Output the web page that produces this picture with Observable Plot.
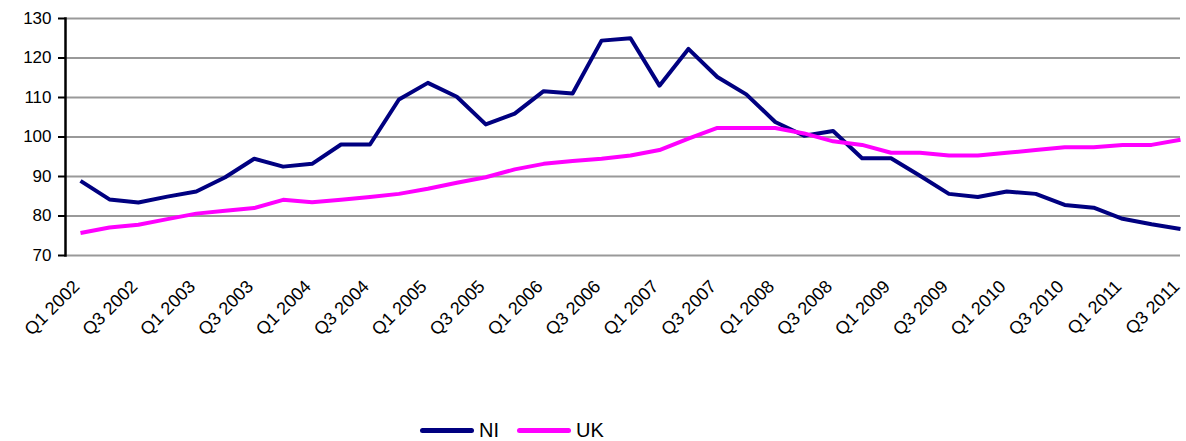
<!DOCTYPE html>
<html>
<head>
<meta charset="utf-8">
<script src="https://cdn.jsdelivr.net/npm/d3@7"></script>
<script src="https://cdn.jsdelivr.net/npm/@observablehq/plot@0.6"></script>
<style>
  html, body { margin: 0; padding: 0; background: #fff; }
  body { width: 1186px; height: 441px; overflow: hidden; font-family: "Liberation Sans", Arial, sans-serif; }
  #legend { position: relative; height: 29px; }
  .item { position: absolute; top: 0; display: flex; align-items: center; height: 36px; font-size: 20px; color: #000; }
  .sw { display: inline-block; width: 54px; height: 5px; border-radius: 3px; margin-right: 5px; }
</style>
</head>
<body>
<div id="chart"></div>
<div id="legend"></div>
<script>
const quarters = [];
for (let yr = 2002; yr <= 2011; yr++) for (let q = 1; q <= 4; q++) quarters.push(`Q${q} ${yr}`);
quarters.splice(39); // Q1 2002 .. Q3 2011

const tickLabels = quarters.filter((d, i) => i % 2 === 0);

const ni = [88.9, 84.2, 83.4, 84.9, 86.2, 89.8, 94.5, 92.5, 93.2, 98.1,
            98.1, 109.5, 113.7, 110.2, 103.2, 105.9, 111.6, 111.0, 124.4, 125.0,
            113.0, 122.3, 115.2, 110.8, 103.8, 100.3, 101.5, 94.6, 94.6, 90.2,
            85.6, 84.8, 86.2, 85.6, 82.8, 82.1, 79.3, 77.9, 76.7];
const uk = [75.7, 77.1, 77.8, 79.2, 80.6, 81.3, 82.0, 84.1, 83.5, 84.1,
            84.8, 85.6, 86.9, 88.4, 89.8, 91.8, 93.2, 93.9, 94.5, 95.3,
            96.7, 99.6, 102.3, 102.3, 102.3, 100.9, 98.9, 98.0, 96.0, 96.0,
            95.3, 95.3, 96.0, 96.7, 97.4, 97.4, 98.0, 98.0, 99.3];
const yTicks = [70, 80, 90, 100, 110, 120, 130];

const series = [
  {name: "NI", color: "#000080", values: ni},
  {name: "UK", color: "#FF00FF", values: uk}
];
const rows = series.flatMap(s => s.values.map((v, i) => ({series: s.name, quarter: quarters[i], value: v})));

const chart = Plot.plot({
  width: 1186,
  height: 412,
  marginLeft: 65,
  marginRight: 6,
  marginTop: 18,
  marginBottom: 157,
  style: {fontFamily: "'Liberation Sans', Arial, sans-serif", background: "#fff"},
  x: {type: "point", domain: quarters, range: [80, 1180], padding: 0},
  y: {domain: [70, 130]},
  color: {domain: series.map(s => s.name), range: series.map(s => s.color)},
  marks: [
    Plot.ruleY(yTicks, {stroke: "#999999", strokeWidth: 2.2}),
    Plot.axisY(yTicks, {tickSize: 7, tickPadding: 7, fontSize: 17, stroke: "#000", strokeWidth: 2, label: null, color: "#000"}),
    Plot.frame({anchor: "left", stroke: "#000", strokeWidth: 2.5}),
    Plot.axisX(tickLabels, {tickSize: 0, tickRotate: -45, tickPadding: 28, dx: -4, fontSize: 18, label: null, color: "#000"}),
    Plot.line(rows, {x: "quarter", y: "value", z: "series", stroke: "series", strokeWidth: 4, strokeLinejoin: "round", strokeLinecap: "butt"})
  ]
});
document.getElementById("chart").appendChild(chart);

const legend = document.getElementById("legend");
const lefts = [420, 517];
series.forEach((s, i) => {
  const it = document.createElement("div");
  it.className = "item";
  it.style.left = lefts[i] + "px";
  const sw = document.createElement("span");
  sw.className = "sw";
  sw.style.background = s.color;
  it.appendChild(sw);
  it.appendChild(document.createTextNode(s.name));
  legend.appendChild(it);
});
</script>
</body>
</html>
